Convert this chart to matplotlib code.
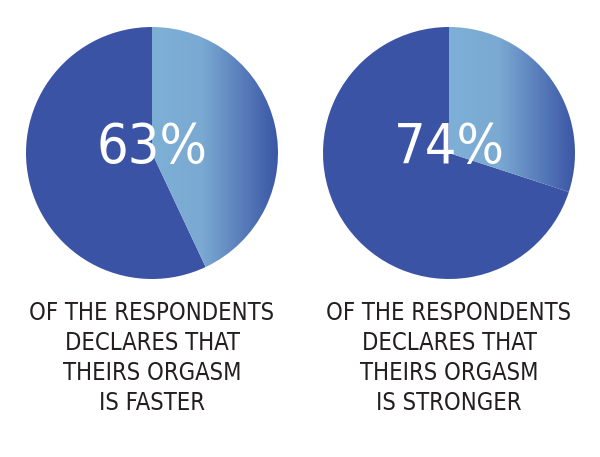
import numpy as np
import matplotlib.pyplot as plt
from matplotlib.patches import Wedge
from matplotlib.colors import LinearSegmentedColormap

# ===== data =====
percent_labels = ["63%", "74%"]
light_shares = [0.43, 0.30]   # light slice share as drawn in the picture
captions = [
    ["OF THE RESPONDENTS", "DECLARES THAT", "THEIRS ORGASM", "IS FASTER"],
    ["OF THE RESPONDENTS", "DECLARES THAT", "THEIRS ORGASM", "IS STRONGER"],
]

dark = "#3a53a4"
cmap = LinearSegmentedColormap.from_list(
    "g", [(0, "#7eb0d6"), (0.4, "#7aa9d2"), (1, "#3b56a6")])

fig = plt.figure(figsize=(6, 4.57), dpi=100)
ax = fig.add_axes([0, 0, 1, 1])
ax.set_xlim(0, 600)
ax.set_ylim(0, 457)
ax.set_aspect("equal")
ax.axis("off")

centers = [152, 449]
cy = 457 - 153
r = 126
font = dict(family="DejaVu Sans", stretch="condensed")

for cx, share, pct, cap in zip(centers, light_shares, percent_labels, captions):
    a = 360 * share
    ax.add_patch(Wedge((cx, cy), r, 90, 450 - a, color=dark, lw=0))
    w = Wedge((cx, cy), r, 90 - a, 90, color="none", lw=0)
    ax.add_patch(w)
    grad = np.linspace(0, 1, 256).reshape(1, -1)
    im = ax.imshow(grad, cmap=cmap, extent=(cx, cx + r, cy - r, cy + r),
                   aspect="auto", zorder=1)
    im.set_clip_path(w)
    ax.text(cx, 457 - 148, pct, color="white", fontsize=40, ha="center",
            va="center", zorder=3, **font)
    for i, line in enumerate(cap):
        ax.text(cx, 457 - (313 + 30 * i), line, color="#231f20", fontsize=17,
                ha="center", va="center", **font)

fig.savefig("out.png", dpi=100)
